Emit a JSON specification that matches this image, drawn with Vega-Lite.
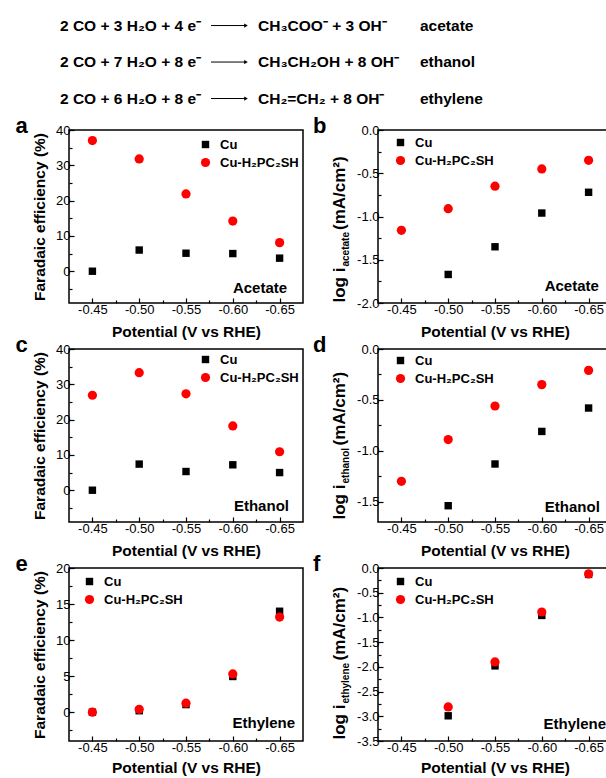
{
  "$schema": "https://vega.github.io/schema/vega-lite/v6.json",
  "padding": {"left": 14, "top": 0, "right": 0, "bottom": 0},
  "config": {
    "font": "Liberation Sans",
    "view": {"stroke": "black", "strokeWidth": 1.5},
    "axis": {"grid": false, "domain": false, "tickColor": "black", "tickWidth": 1.2, "labelColor": "black", "labelFontSize": 13, "titleFontSize": 15.5, "titleFontWeight": "bold", "titleColor": "black", "labelOverlap": false, "labelFlush": false, "labelPadding": 4},
    "legend": {"title": null, "labelFontSize": 13, "labelFontWeight": "bold", "labelColor": "black", "padding": 0, "rowPadding": 4, "labelOffset": 8, "symbolStrokeWidth": 0},
    "title": {"fontSize": 22, "fontWeight": "bold", "color": "black", "anchor": "start", "frame": "bounds", "baseline": "alphabetic", "offset": -14, "dx": -17},
    "text": {"color": "black"}
  },
  "datasets": {
    "equations": [
      {"line": 1, "reactants": "2 CO + 3 H₂O + 4 e⁻", "products": "CH₃COO⁻ + 3 OH⁻", "product": "acetate"},
      {"line": 2, "reactants": "2 CO + 7 H₂O + 8 e⁻", "products": "CH₃CH₂OH + 8 OH⁻", "product": "ethanol"},
      {"line": 3, "reactants": "2 CO + 6 H₂O + 8 e⁻", "products": "CH₂=CH₂ + 8 OH⁻", "product": "ethylene"}
    ],
    "fe_acetate": [
      {"series": "Cu", "potential": -0.45, "value": 0.0},
      {"series": "Cu", "potential": -0.50, "value": 6.0},
      {"series": "Cu", "potential": -0.55, "value": 5.1},
      {"series": "Cu", "potential": -0.60, "value": 5.0},
      {"series": "Cu", "potential": -0.65, "value": 3.7},
      {"series": "Cu-H₂PC₂SH", "potential": -0.45, "value": 37.0},
      {"series": "Cu-H₂PC₂SH", "potential": -0.50, "value": 31.8},
      {"series": "Cu-H₂PC₂SH", "potential": -0.55, "value": 21.9},
      {"series": "Cu-H₂PC₂SH", "potential": -0.60, "value": 14.2},
      {"series": "Cu-H₂PC₂SH", "potential": -0.65, "value": 8.1}
    ],
    "log_acetate": [
      {"series": "Cu", "potential": -0.50, "value": -1.67},
      {"series": "Cu", "potential": -0.55, "value": -1.35},
      {"series": "Cu", "potential": -0.60, "value": -0.96},
      {"series": "Cu", "potential": -0.65, "value": -0.72},
      {"series": "Cu-H₂PC₂SH", "potential": -0.45, "value": -1.16},
      {"series": "Cu-H₂PC₂SH", "potential": -0.50, "value": -0.91},
      {"series": "Cu-H₂PC₂SH", "potential": -0.55, "value": -0.65},
      {"series": "Cu-H₂PC₂SH", "potential": -0.60, "value": -0.45},
      {"series": "Cu-H₂PC₂SH", "potential": -0.65, "value": -0.35}
    ],
    "fe_ethanol": [
      {"series": "Cu", "potential": -0.45, "value": 0.0},
      {"series": "Cu", "potential": -0.50, "value": 7.4},
      {"series": "Cu", "potential": -0.55, "value": 5.3},
      {"series": "Cu", "potential": -0.60, "value": 7.2},
      {"series": "Cu", "potential": -0.65, "value": 5.0},
      {"series": "Cu-H₂PC₂SH", "potential": -0.45, "value": 26.9},
      {"series": "Cu-H₂PC₂SH", "potential": -0.50, "value": 33.3},
      {"series": "Cu-H₂PC₂SH", "potential": -0.55, "value": 27.3},
      {"series": "Cu-H₂PC₂SH", "potential": -0.60, "value": 18.2},
      {"series": "Cu-H₂PC₂SH", "potential": -0.65, "value": 10.9}
    ],
    "log_ethanol": [
      {"series": "Cu", "potential": -0.50, "value": -1.54},
      {"series": "Cu", "potential": -0.55, "value": -1.13},
      {"series": "Cu", "potential": -0.60, "value": -0.81},
      {"series": "Cu", "potential": -0.65, "value": -0.58},
      {"series": "Cu-H₂PC₂SH", "potential": -0.45, "value": -1.30},
      {"series": "Cu-H₂PC₂SH", "potential": -0.50, "value": -0.89},
      {"series": "Cu-H₂PC₂SH", "potential": -0.55, "value": -0.56},
      {"series": "Cu-H₂PC₂SH", "potential": -0.60, "value": -0.35},
      {"series": "Cu-H₂PC₂SH", "potential": -0.65, "value": -0.21}
    ],
    "fe_ethylene": [
      {"series": "Cu", "potential": -0.45, "value": 0.0},
      {"series": "Cu", "potential": -0.50, "value": 0.2},
      {"series": "Cu", "potential": -0.55, "value": 1.05},
      {"series": "Cu", "potential": -0.60, "value": 4.95},
      {"series": "Cu", "potential": -0.65, "value": 14.0},
      {"series": "Cu-H₂PC₂SH", "potential": -0.45, "value": 0.0},
      {"series": "Cu-H₂PC₂SH", "potential": -0.50, "value": 0.4},
      {"series": "Cu-H₂PC₂SH", "potential": -0.55, "value": 1.25},
      {"series": "Cu-H₂PC₂SH", "potential": -0.60, "value": 5.3},
      {"series": "Cu-H₂PC₂SH", "potential": -0.65, "value": 13.2}
    ],
    "log_ethylene": [
      {"series": "Cu", "potential": -0.50, "value": -2.99},
      {"series": "Cu", "potential": -0.55, "value": -1.98},
      {"series": "Cu", "potential": -0.60, "value": -0.96},
      {"series": "Cu", "potential": -0.65, "value": -0.13},
      {"series": "Cu-H₂PC₂SH", "potential": -0.50, "value": -2.81},
      {"series": "Cu-H₂PC₂SH", "potential": -0.55, "value": -1.90},
      {"series": "Cu-H₂PC₂SH", "potential": -0.60, "value": -0.89},
      {"series": "Cu-H₂PC₂SH", "potential": -0.65, "value": -0.12}
    ]
  },
  "resolve": {"scale": {"color": "independent", "shape": "independent", "size": "independent"}, "legend": {"color": "independent", "shape": "independent", "size": "independent"}},
  "spacing": 4,
  "vconcat": [
    {
      "width": 540, "height": 110,
      "view": {"stroke": null},
      "data": {"name": "equations"},
      "encoding": {"y": {"field": "line", "type": "ordinal", "scale": {"type": "point", "padding": 0.507, "align": 0.69}, "axis": null}},
      "layer": [
        {"mark": {"type": "text", "align": "left", "baseline": "middle", "fontSize": 15.5, "fontWeight": "bold"},
         "encoding": {"x": {"datum": -9, "type": "quantitative", "scale": {"domain": [0, 540], "nice": false, "zero": false}, "axis": null}, "text": {"field": "reactants"}}},
        {"mark": {"type": "rule", "strokeWidth": 1, "color": "black"},
         "encoding": {"x": {"datum": 142, "type": "quantitative"}, "x2": {"datum": 177}}},
        {"mark": {"type": "point", "shape": "triangle-right", "filled": true, "size": 18, "color": "black", "opacity": 1},
         "encoding": {"x": {"datum": 177, "type": "quantitative"}}},
        {"mark": {"type": "text", "align": "left", "baseline": "middle", "fontSize": 15.5, "fontWeight": "bold"},
         "encoding": {"x": {"datum": 189, "type": "quantitative"}, "text": {"field": "products"}}},
        {"mark": {"type": "text", "align": "left", "baseline": "middle", "fontSize": 15.5, "fontWeight": "bold"},
         "encoding": {"x": {"datum": 351, "type": "quantitative"}, "text": {"field": "product"}}}
      ]
    },
    {
      "columns": 2,
      "spacing": {"row": -8, "column": 8},
      "resolve": {"scale": {"color": "independent", "shape": "independent", "size": "independent"}, "legend": {"color": "independent", "shape": "independent", "size": "independent"}},
      "concat": [
        {
          "width": 234, "height": 173,
          "title": {"text": "a"},
          "data": {"name": "fe_acetate"},
          "resolve": {"axis": {"x": "independent", "y": "independent"}},
          "layer": [
            {"mark": {"type": "point", "filled": true, "opacity": 1, "strokeWidth": 0},
             "encoding": {
               "x": {"field": "potential", "type": "quantitative", "scale": {"domain": [-0.675, -0.425], "reverse": true, "nice": false, "zero": false},
                     "axis": {"orient": "bottom", "title": "Potential (V vs RHE)", "values": [-0.45, -0.475, -0.5, -0.525, -0.55, -0.575, -0.6, -0.625, -0.65],
                              "labelExpr": "abs(datum.value*20 - round(datum.value*20)) > 0.1 ? '' : replace(format(datum.value, '.2f'), '−', '-')",
                              "tickSize": {"condition": {"test": "abs(datum.value*20 - round(datum.value*20)) > 0.1", "value": -3}, "value": -5},
                              "labelPadding": 5, "titlePadding": 6}},
               "y": {"field": "value", "type": "quantitative", "scale": {"domain": [-9, 40], "nice": false, "zero": false},
                     "axis": {"orient": "left", "title": "Faradaic efficiency (%)", "values": [-5, 0, 5, 10, 15, 20, 25, 30, 35, 40],
                              "labelExpr": "abs(datum.value/10 - round(datum.value/10)) > 0.01 ? '' : format(datum.value, '.0f')",
                              "tickSize": {"condition": {"test": "abs(datum.value/10 - round(datum.value/10)) > 0.01", "value": -3}, "value": -5},
                              "titlePadding": 8}},
               "color": {"field": "series", "type": "nominal", "scale": {"domain": ["Cu", "Cu-H₂PC₂SH"], "range": ["#000000", "#ff0000"]}, "legend": {"orient": "none", "legendX": 130, "legendY": 8}},
               "shape": {"field": "series", "type": "nominal", "scale": {"domain": ["Cu", "Cu-H₂PC₂SH"], "range": ["square", "circle"]}},
               "size": {"field": "series", "type": "nominal", "scale": {"domain": ["Cu", "Cu-H₂PC₂SH"], "range": [55, 85]}}
             }},
            {"data": {"values": [{}]},
             "mark": {"type": "text", "align": "right", "baseline": "alphabetic", "fontSize": 15, "fontWeight": "bold"},
             "encoding": {"x": {"datum": -0.658, "axis": null}, "y": {"datum": -6.2, "axis": null}, "text": {"value": "Acetate"}}}
          ]
        },
        {
          "width": 234, "height": 173,
          "title": {"text": "b"},
          "data": {"name": "log_acetate"},
          "resolve": {"axis": {"x": "independent", "y": "independent"}},
          "layer": [
            {"mark": {"type": "point", "filled": true, "opacity": 1, "strokeWidth": 0},
             "encoding": {
               "x": {"field": "potential", "type": "quantitative", "scale": {"domain": [-0.675, -0.425], "reverse": true, "nice": false, "zero": false},
                     "axis": {"orient": "bottom", "title": "Potential (V vs RHE)", "values": [-0.45, -0.475, -0.5, -0.525, -0.55, -0.575, -0.6, -0.625, -0.65],
                              "labelExpr": "abs(datum.value*20 - round(datum.value*20)) > 0.1 ? '' : replace(format(datum.value, '.2f'), '−', '-')",
                              "tickSize": {"condition": {"test": "abs(datum.value*20 - round(datum.value*20)) > 0.1", "value": -3}, "value": -5},
                              "labelPadding": 5, "titlePadding": 6}},
               "y": {"field": "value", "type": "quantitative", "scale": {"domain": [-2, 0], "nice": false, "zero": false},
                     "axis": {"orient": "left", "title": "log i", "titleX": -34, "titleY": 172, "titleAlign": "left", "titleAngle": 270, "titleBaseline": "alphabetic", "titleFontSize": 17,
                              "values": [-2, -1.75, -1.5, -1.25, -1, -0.75, -0.5, -0.25, 0],
                              "labelExpr": "abs(datum.value*2 - round(datum.value*2)) > 0.1 ? '' : replace(format(datum.value, '.1f'), '−', '-')",
                              "tickSize": {"condition": {"test": "abs(datum.value*2 - round(datum.value*2)) > 0.1", "value": -3}, "value": -5}}},
               "color": {"field": "series", "type": "nominal", "scale": {"domain": ["Cu", "Cu-H₂PC₂SH"], "range": ["#000000", "#ff0000"]}, "legend": {"orient": "none", "legendX": 16, "legendY": 6}},
               "shape": {"field": "series", "type": "nominal", "scale": {"domain": ["Cu", "Cu-H₂PC₂SH"], "range": ["square", "circle"]}},
               "size": {"field": "series", "type": "nominal", "scale": {"domain": ["Cu", "Cu-H₂PC₂SH"], "range": [55, 85]}}
             }},
            {"mark": {"type": "point", "opacity": 0},
             "encoding": {"x": {"field": "potential", "type": "quantitative", "axis": null},
                          "y": {"field": "value", "type": "quantitative", "axis": {"orient": "left", "labels": false, "ticks": false, "domain": false, "title": "acetate", "titleX": -30, "titleY": 136, "titleAlign": "left", "titleAngle": 270, "titleBaseline": "alphabetic", "titleFontSize": 10}}}},
            {"mark": {"type": "point", "opacity": 0},
             "encoding": {"x": {"field": "potential", "type": "quantitative", "axis": null},
                          "y": {"field": "value", "type": "quantitative", "axis": {"orient": "left", "labels": false, "ticks": false, "domain": false, "title": "(mA/cm²)", "titleX": -34, "titleY": 99.5, "titleAlign": "left", "titleAngle": 270, "titleBaseline": "alphabetic", "titleFontSize": 17}}}},
            {"data": {"values": [{}]},
             "mark": {"type": "text", "align": "right", "baseline": "alphabetic", "fontSize": 15, "fontWeight": "bold"},
             "encoding": {"x": {"datum": -0.661, "axis": null}, "y": {"datum": -1.861, "axis": null}, "text": {"value": "Acetate"}}}
          ]
        },
        {
          "width": 234, "height": 173,
          "title": {"text": "c"},
          "data": {"name": "fe_ethanol"},
          "resolve": {"axis": {"x": "independent", "y": "independent"}},
          "layer": [
            {"mark": {"type": "point", "filled": true, "opacity": 1, "strokeWidth": 0},
             "encoding": {
               "x": {"field": "potential", "type": "quantitative", "scale": {"domain": [-0.675, -0.425], "reverse": true, "nice": false, "zero": false},
                     "axis": {"orient": "bottom", "title": "Potential (V vs RHE)", "values": [-0.45, -0.475, -0.5, -0.525, -0.55, -0.575, -0.6, -0.625, -0.65],
                              "labelExpr": "abs(datum.value*20 - round(datum.value*20)) > 0.1 ? '' : replace(format(datum.value, '.2f'), '−', '-')",
                              "tickSize": {"condition": {"test": "abs(datum.value*20 - round(datum.value*20)) > 0.1", "value": -3}, "value": -5},
                              "labelPadding": 5, "titlePadding": 6}},
               "y": {"field": "value", "type": "quantitative", "scale": {"domain": [-9, 40], "nice": false, "zero": false},
                     "axis": {"orient": "left", "title": "Faradaic efficiency (%)", "values": [-5, 0, 5, 10, 15, 20, 25, 30, 35, 40],
                              "labelExpr": "abs(datum.value/10 - round(datum.value/10)) > 0.01 ? '' : format(datum.value, '.0f')",
                              "tickSize": {"condition": {"test": "abs(datum.value/10 - round(datum.value/10)) > 0.01", "value": -3}, "value": -5},
                              "titlePadding": 8}},
               "color": {"field": "series", "type": "nominal", "scale": {"domain": ["Cu", "Cu-H₂PC₂SH"], "range": ["#000000", "#ff0000"]}, "legend": {"orient": "none", "legendX": 130, "legendY": 4}},
               "shape": {"field": "series", "type": "nominal", "scale": {"domain": ["Cu", "Cu-H₂PC₂SH"], "range": ["square", "circle"]}},
               "size": {"field": "series", "type": "nominal", "scale": {"domain": ["Cu", "Cu-H₂PC₂SH"], "range": [55, 85]}}
             }},
            {"data": {"values": [{}]},
             "mark": {"type": "text", "align": "right", "baseline": "alphabetic", "fontSize": 15, "fontWeight": "bold"},
             "encoding": {"x": {"datum": -0.660, "axis": null}, "y": {"datum": -5.9, "axis": null}, "text": {"value": "Ethanol"}}}
          ]
        },
        {
          "width": 234, "height": 173,
          "title": {"text": "d"},
          "data": {"name": "log_ethanol"},
          "resolve": {"axis": {"x": "independent", "y": "independent"}},
          "layer": [
            {"mark": {"type": "point", "filled": true, "opacity": 1, "strokeWidth": 0},
             "encoding": {
               "x": {"field": "potential", "type": "quantitative", "scale": {"domain": [-0.675, -0.425], "reverse": true, "nice": false, "zero": false},
                     "axis": {"orient": "bottom", "title": "Potential (V vs RHE)", "values": [-0.45, -0.475, -0.5, -0.525, -0.55, -0.575, -0.6, -0.625, -0.65],
                              "labelExpr": "abs(datum.value*20 - round(datum.value*20)) > 0.1 ? '' : replace(format(datum.value, '.2f'), '−', '-')",
                              "tickSize": {"condition": {"test": "abs(datum.value*20 - round(datum.value*20)) > 0.1", "value": -3}, "value": -5},
                              "labelPadding": 5, "titlePadding": 6}},
               "y": {"field": "value", "type": "quantitative", "scale": {"domain": [-1.7, 0], "nice": false, "zero": false},
                     "axis": {"orient": "left", "title": "log i", "titleX": -34, "titleY": 170, "titleAlign": "left", "titleAngle": 270, "titleBaseline": "alphabetic", "titleFontSize": 17,
                              "values": [-1.5, -1.25, -1, -0.75, -0.5, -0.25, 0],
                              "labelExpr": "abs(datum.value*2 - round(datum.value*2)) > 0.1 ? '' : replace(format(datum.value, '.1f'), '−', '-')",
                              "tickSize": {"condition": {"test": "abs(datum.value*2 - round(datum.value*2)) > 0.1", "value": -3}, "value": -5}}},
               "color": {"field": "series", "type": "nominal", "scale": {"domain": ["Cu", "Cu-H₂PC₂SH"], "range": ["#000000", "#ff0000"]}, "legend": {"orient": "none", "legendX": 16, "legendY": 5}},
               "shape": {"field": "series", "type": "nominal", "scale": {"domain": ["Cu", "Cu-H₂PC₂SH"], "range": ["square", "circle"]}},
               "size": {"field": "series", "type": "nominal", "scale": {"domain": ["Cu", "Cu-H₂PC₂SH"], "range": [55, 85]}}
             }},
            {"mark": {"type": "point", "opacity": 0},
             "encoding": {"x": {"field": "potential", "type": "quantitative", "axis": null},
                          "y": {"field": "value", "type": "quantitative", "axis": {"orient": "left", "labels": false, "ticks": false, "domain": false, "title": "ethanol", "titleX": -30, "titleY": 134, "titleAlign": "left", "titleAngle": 270, "titleBaseline": "alphabetic", "titleFontSize": 10}}}},
            {"mark": {"type": "point", "opacity": 0},
             "encoding": {"x": {"field": "potential", "type": "quantitative", "axis": null},
                          "y": {"field": "value", "type": "quantitative", "axis": {"orient": "left", "labels": false, "ticks": false, "domain": false, "title": "(mA/cm²)", "titleX": -34, "titleY": 96, "titleAlign": "left", "titleAngle": 270, "titleBaseline": "alphabetic", "titleFontSize": 17}}}},
            {"data": {"values": [{}]},
             "mark": {"type": "text", "align": "right", "baseline": "alphabetic", "fontSize": 15, "fontWeight": "bold"},
             "encoding": {"x": {"datum": -0.662, "axis": null}, "y": {"datum": -1.60, "axis": null}, "text": {"value": "Ethanol"}}}
          ]
        },
        {
          "width": 234, "height": 173,
          "title": {"text": "e"},
          "data": {"name": "fe_ethylene"},
          "resolve": {"axis": {"x": "independent", "y": "independent"}},
          "layer": [
            {"mark": {"type": "point", "filled": true, "opacity": 1, "strokeWidth": 0},
             "encoding": {
               "x": {"field": "potential", "type": "quantitative", "scale": {"domain": [-0.675, -0.425], "reverse": true, "nice": false, "zero": false},
                     "axis": {"orient": "bottom", "title": "Potential (V vs RHE)", "values": [-0.45, -0.475, -0.5, -0.525, -0.55, -0.575, -0.6, -0.625, -0.65],
                              "labelExpr": "abs(datum.value*20 - round(datum.value*20)) > 0.1 ? '' : replace(format(datum.value, '.2f'), '−', '-')",
                              "tickSize": {"condition": {"test": "abs(datum.value*20 - round(datum.value*20)) > 0.1", "value": -3}, "value": -5},
                              "labelPadding": 5, "titlePadding": 4}},
               "y": {"field": "value", "type": "quantitative", "scale": {"domain": [-4, 20], "nice": false, "zero": false},
                     "axis": {"orient": "left", "title": "Faradaic efficiency (%)", "values": [-2.5, 0, 2.5, 5, 7.5, 10, 12.5, 15, 17.5, 20],
                              "labelExpr": "abs(datum.value/5 - round(datum.value/5)) > 0.01 ? '' : format(datum.value, '.0f')",
                              "tickSize": {"condition": {"test": "abs(datum.value/5 - round(datum.value/5)) > 0.01", "value": -3}, "value": -5},
                              "titlePadding": 8}},
               "color": {"field": "series", "type": "nominal", "scale": {"domain": ["Cu", "Cu-H₂PC₂SH"], "range": ["#000000", "#ff0000"]}, "legend": {"orient": "none", "legendX": 14, "legendY": 7}},
               "shape": {"field": "series", "type": "nominal", "scale": {"domain": ["Cu", "Cu-H₂PC₂SH"], "range": ["square", "circle"]}},
               "size": {"field": "series", "type": "nominal", "scale": {"domain": ["Cu", "Cu-H₂PC₂SH"], "range": [55, 85]}}
             }},
            {"data": {"values": [{}]},
             "mark": {"type": "text", "align": "right", "baseline": "alphabetic", "fontSize": 15, "fontWeight": "bold"},
             "encoding": {"x": {"datum": -0.6665, "axis": null}, "y": {"datum": -2.2, "axis": null}, "text": {"value": "Ethylene"}}}
          ]
        },
        {
          "width": 234, "height": 173,
          "title": {"text": "f"},
          "data": {"name": "log_ethylene"},
          "resolve": {"axis": {"x": "independent", "y": "independent"}},
          "layer": [
            {"mark": {"type": "point", "filled": true, "opacity": 1, "strokeWidth": 0},
             "encoding": {
               "x": {"field": "potential", "type": "quantitative", "scale": {"domain": [-0.675, -0.425], "reverse": true, "nice": false, "zero": false},
                     "axis": {"orient": "bottom", "title": "Potential (V vs RHE)", "values": [-0.45, -0.475, -0.5, -0.525, -0.55, -0.575, -0.6, -0.625, -0.65],
                              "labelExpr": "abs(datum.value*20 - round(datum.value*20)) > 0.1 ? '' : replace(format(datum.value, '.2f'), '−', '-')",
                              "tickSize": {"condition": {"test": "abs(datum.value*20 - round(datum.value*20)) > 0.1", "value": -3}, "value": -5},
                              "labelPadding": 5, "titlePadding": 4}},
               "y": {"field": "value", "type": "quantitative", "scale": {"domain": [-3.5, 0], "nice": false, "zero": false},
                     "axis": {"orient": "left", "title": "log i", "titleX": -34, "titleY": 171, "titleAlign": "left", "titleAngle": 270, "titleBaseline": "alphabetic", "titleFontSize": 17,
                              "values": [-3.5, -3.25, -3, -2.75, -2.5, -2.25, -2, -1.75, -1.5, -1.25, -1, -0.75, -0.5, -0.25, 0],
                              "labelExpr": "abs(datum.value*2 - round(datum.value*2)) > 0.1 ? '' : replace(format(datum.value, '.1f'), '−', '-')",
                              "tickSize": {"condition": {"test": "abs(datum.value*2 - round(datum.value*2)) > 0.1", "value": -3}, "value": -5}}},
               "color": {"field": "series", "type": "nominal", "scale": {"domain": ["Cu", "Cu-H₂PC₂SH"], "range": ["#000000", "#ff0000"]}, "legend": {"orient": "none", "legendX": 16, "legendY": 7}},
               "shape": {"field": "series", "type": "nominal", "scale": {"domain": ["Cu", "Cu-H₂PC₂SH"], "range": ["square", "circle"]}},
               "size": {"field": "series", "type": "nominal", "scale": {"domain": ["Cu", "Cu-H₂PC₂SH"], "range": [55, 85]}}
             }},
            {"mark": {"type": "point", "opacity": 0},
             "encoding": {"x": {"field": "potential", "type": "quantitative", "axis": null},
                          "y": {"field": "value", "type": "quantitative", "axis": {"orient": "left", "labels": false, "ticks": false, "domain": false, "title": "ethylene", "titleX": -30, "titleY": 135, "titleAlign": "left", "titleAngle": 270, "titleBaseline": "alphabetic", "titleFontSize": 10}}}},
            {"mark": {"type": "point", "opacity": 0},
             "encoding": {"x": {"field": "potential", "type": "quantitative", "axis": null},
                          "y": {"field": "value", "type": "quantitative", "axis": {"orient": "left", "labels": false, "ticks": false, "domain": false, "title": "(mA/cm²)", "titleX": -34, "titleY": 92, "titleAlign": "left", "titleAngle": 270, "titleBaseline": "alphabetic", "titleFontSize": 17}}}},
            {"data": {"values": [{}]},
             "mark": {"type": "text", "align": "right", "baseline": "alphabetic", "fontSize": 15, "fontWeight": "bold"},
             "encoding": {"x": {"datum": -0.6686, "axis": null}, "y": {"datum": -3.257, "axis": null}, "text": {"value": "Ethylene"}}}
          ]
        }
      ]
    }
  ]
}
